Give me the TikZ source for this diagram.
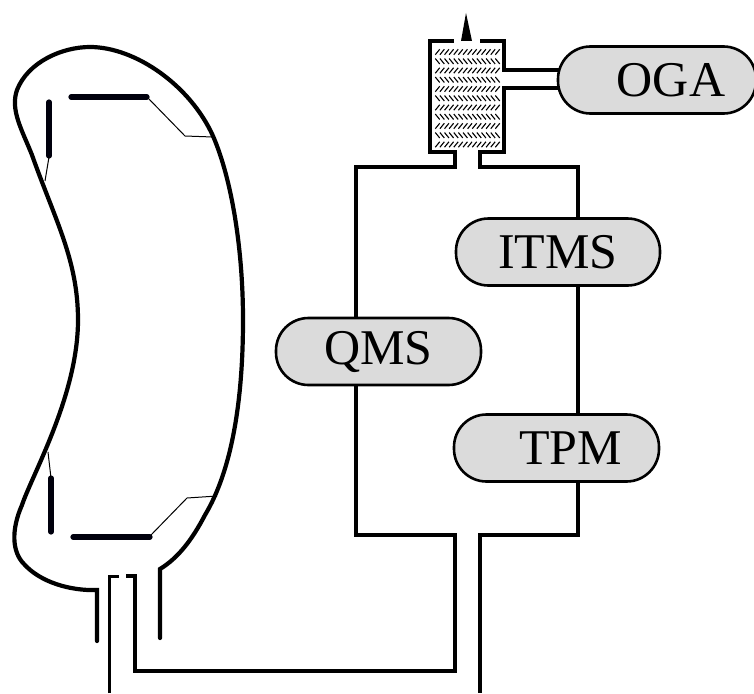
\documentclass[tikz,border=0pt]{standalone}
\usepackage{fontspec}
\setmainfont{Liberation Serif}
\tikzset{
  pill/.style={draw=black,line width=2.6pt,fill=black!14,rounded corners=32.5pt,minimum height=67pt,inner sep=0pt,font=\fontsize{50}{60}\selectfont},
  wall/.style={line width=4.2pt,line cap=round,line join=miter},
  pipe/.style={line width=3.4pt,line join=miter},
  plate/.style={line width=5.2pt,line cap=round,color=black!95!blue},
  wire/.style={line width=1pt},
  hatch/.style={line width=1.1pt}
}
\begin{document}
\begin{tikzpicture}[x=1pt,y=-1pt]
\useasboundingbox (0,0) rectangle (754,693);
% vessel outline
\draw[wall] (97,641) -- (97,590)
  .. controls (70,591) and (40,582) .. (24,564)
  .. controls (12,552) and (11,530) .. (22,505)
  .. controls (32,475) and (78,395) .. (78,320)
  .. controls (78,260) and (55,220) .. (32,155)
  .. controls (22,130) and (10,110) .. (17,90)
  .. controls (28,62) and (62,47) .. (90,47)
  .. controls (135,47) and (190,85) .. (213,136)
  .. controls (232,180) and (243,250) .. (243,320)
  .. controls (243,400) and (232,470) .. (205,515)
  .. controls (192,540) and (178,558) .. (160,569) -- (160,638);
% plates and wires
\draw[plate] (49,102) -- (49,156);
\draw[plate] (71,97) -- (147,97);
\draw[plate] (51,478) -- (51,532);
\draw[plate] (73,537) -- (150,537);
\draw[wire] (49,157) -- (45,181);
\draw[wire] (148,98) -- (185,136) -- (213,137);
\draw[wire] (51,478) -- (48,452);
\draw[wire] (151,535) -- (187,498) -- (217,496);
% pipes
\coordinate (a) at (109,693);
\draw[line width=3pt] (a) -- (109,576) -- (119,576);
\draw[pipe] (126,576) -- (135,576) -- (135,671) -- (455,671) -- (455,535) -- (356,535) -- (356,167) -- (455,167) -- (455,152) -- (430,152) -- (430,41) -- (454,41);
\draw[pipe] (480,41) -- (504,41) -- (504,70) -- (562,70);
\draw[pipe] (562,88) -- (504,88) -- (504,152) -- (480,152) -- (480,167) -- (578,167) -- (578,535) -- (480,535) -- (480,693);
% exhaust tip
\fill (461,41) -- (466,13) -- (472,41) -- cycle;
% packing hatch
\foreach \r in {0,...,10}{
  \pgfmathsetmacro{\yy}{52+9.25*\r}
  \foreach \c in {0,...,13}{
    \pgfmathsetmacro{\xx}{437.5+4.62*\c}
    \ifodd\r
      \draw[hatch] (\xx-2.2,\yy-2.7) -- (\xx+2.2,\yy+2.7);
    \else
      \draw[hatch] (\xx-2.2,\yy+2.7) -- (\xx+2.2,\yy-2.7);
    \fi
  }
}
% instruments
\node[pill,minimum width=198pt] (oga) at (657,80) {\hspace{28pt}OGA};
\node[pill,minimum width=204pt] (itms) at (558,252) {\raisebox{1pt}{ITMS}};
\node[pill,minimum width=205pt] (qms) at (378.5,351.5) {\raisebox{1pt}{QMS}};
\node[pill,minimum width=205pt] (tpm) at (556.5,448) {\hspace{28pt}TPM};
\end{tikzpicture}
\end{document}
